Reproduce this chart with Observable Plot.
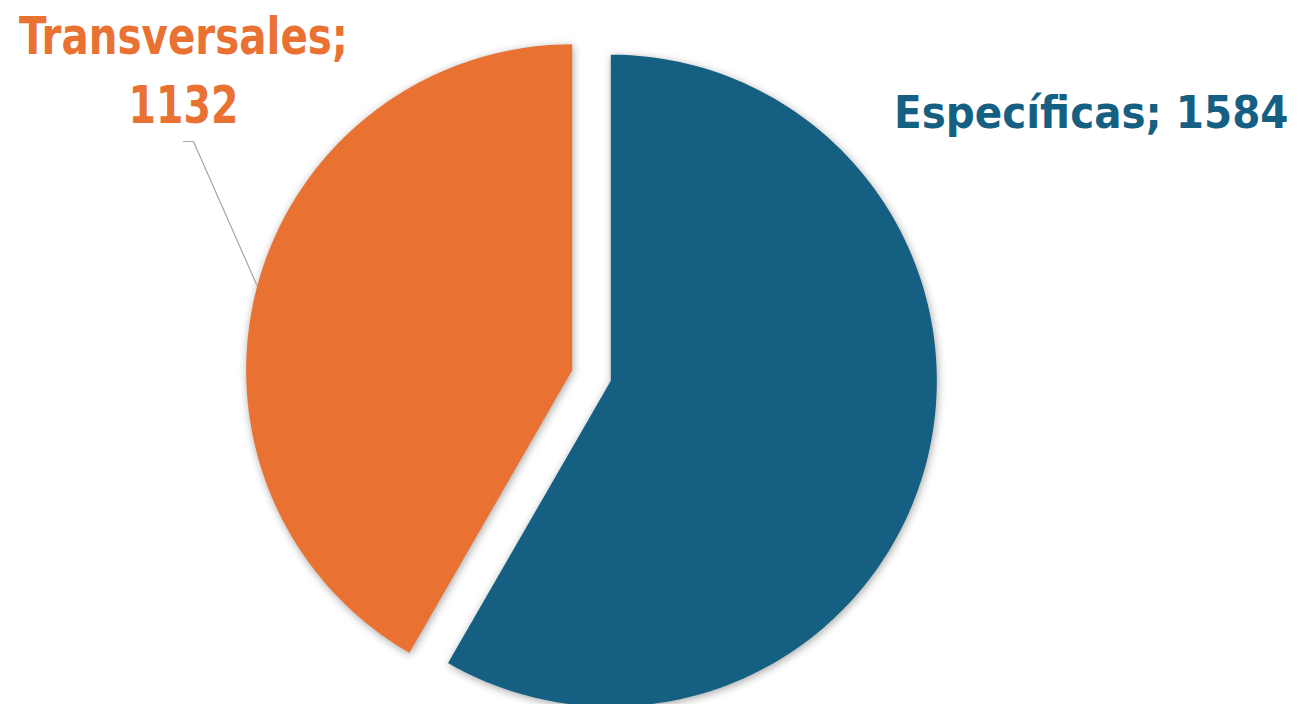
<!DOCTYPE html>
<html><head><meta charset="utf-8">
<script src="https://cdn.jsdelivr.net/npm/d3@7"></script>
<script src="https://cdn.jsdelivr.net/npm/@observablehq/plot@0.6"></script>
<style>
html,body{margin:0;padding:0;background:#fff;overflow:hidden;}
#chart{width:1299px;height:704px;}
</style></head><body><div id="chart"></div>
<script>
// ---- data ----
const categories = ["Específicas", "Transversales"];
const values = [1584, 1132];
const colors = ["#156082", "#E97132"];

// ---- layout (pixels) ----
const W = 1299, H = 704;
const CX = 591, CY = 375, R = 326, EXPLODE = 20, STEPS = 240;
const FONT = "'Liberation Sans Narrow', 'Arial Narrow', 'DejaVu Sans Condensed', sans-serif";
// label anchors in px: [x, last-line baseline, text anchor, font size]
const labelPos = {"Específicas": [1288, 127, "end", 45], "Transversales": [183, 122, "middle", 51]};
// rendered widths of the wrapped label lines, px
const lineWidths = {"Transversales;": 329, "1132": 110};
const leaderStart = [183, 141], leaderElbow = [193, 141];

const ux = px => (px - CX) / R;
const uy = py => (CY - py) / R;

const rows = categories.map((c, i) => ({name: c, value: values[i]}));
const arcs = d3.pie().sort(null).value(d => d.value)(rows);

const sectorPts = [];
const centers = {};
for (const a of arcs) {
  const m = (a.startAngle + a.endAngle) / 2;
  const ox = EXPLODE / R * Math.sin(m), oy = EXPLODE / R * Math.cos(m);
  centers[a.data.name] = {ox, oy, m};
  sectorPts.push({name: a.data.name, x: ox, y: oy});
  const n = Math.max(2, Math.ceil(STEPS * (a.endAngle - a.startAngle) / (2 * Math.PI)));
  for (let j = 0; j <= n; j++) {
    const t = a.startAngle + (a.endAngle - a.startAngle) * j / n;
    sectorPts.push({name: a.data.name, x: ox + Math.sin(t), y: oy + Math.cos(t)});
  }
}

const tc = centers["Transversales"];
const leader = [
  {x: ux(leaderStart[0]), y: uy(leaderStart[1])},
  {x: ux(leaderElbow[0]), y: uy(leaderElbow[1])},
  {x: tc.ox + Math.sin(tc.m), y: tc.oy + Math.cos(tc.m)}
];

const labels = arcs.map(a => ({
  name: a.data.name,
  text: a.data.name === "Transversales" ? `${a.data.name};\n${a.data.value}` : `${a.data.name}; ${a.data.value}`,
  x: ux(labelPos[a.data.name][0]),
  y: uy(labelPos[a.data.name][1]),
  anchor: labelPos[a.data.name][2],
  size: labelPos[a.data.name][3]
}));

const textOpts = {x: "x", y: "y", text: "text", fill: "name", lineAnchor: "bottom",
  fontWeight: "bold", fontFamily: FONT, lineHeight: 1.35};

const chart = Plot.plot({
  width: W, height: H, margin: 0,
  style: {background: "#fff", overflow: "visible"},
  x: {domain: [ux(0), ux(W)], axis: null},
  y: {domain: [uy(H), uy(0)], axis: null},
  color: {domain: categories, range: colors},
  marks: [
    Plot.line(sectorPts, {x: "x", y: "y", z: "name", fill: "name", stroke: "none", curve: "linear"}),
    Plot.line(leader, {x: "x", y: "y", stroke: "#a6a6a6", strokeWidth: 1.2, curve: "linear"}),
    Plot.text(labels.filter(d => d.anchor === "middle"), {...textOpts, textAnchor: "middle", fontSize: labels.find(d => d.anchor === "middle").size}),
    Plot.text(labels.filter(d => d.anchor === "end"), {...textOpts, textAnchor: "end", fontSize: labels.find(d => d.anchor === "end").size})
  ]
});
const g = chart.querySelectorAll('g[aria-label="line"]')[0];
if (g) g.style.filter = "drop-shadow(1px 2px 4px rgba(0,0,0,0.35))";
document.getElementById("chart").appendChild(chart);
// fit the wrapped label lines to the reference's width
chart.querySelectorAll('g[aria-label="text"] tspan').forEach(p => {
  const w = lineWidths[p.textContent];
  if (w) { p.setAttribute("textLength", w); p.setAttribute("lengthAdjust", "spacingAndGlyphs"); }
});
</script>
</body></html>
